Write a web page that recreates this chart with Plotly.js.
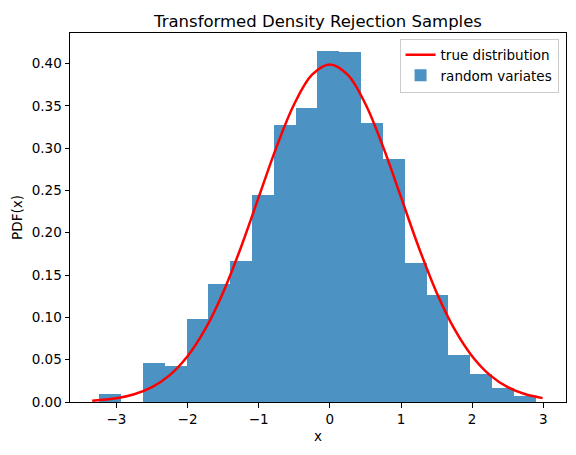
<!DOCTYPE html>
<html>
<head>
<meta charset="utf-8">
<script src="https://cdn.plot.ly/plotly-3.0.1.min.js"></script>
<style>html,body{margin:0;padding:0;background:#fff;}#chart{width:576px;height:455px;}</style>
</head>
<body>
<div id="chart"></div>
<script>
// histogram bin edges
var binEdges = [-3.24, -2.933, -2.627, -2.32, -2.014, -1.707, -1.4, -1.094, -0.787, -0.481, -0.174,
                0.132, 0.439, 0.746, 1.052, 1.359, 1.665, 1.972, 2.278, 2.585, 2.892];
// density per bin
var density = [0.010, 0.0, 0.046, 0.042, 0.098, 0.140, 0.167, 0.245, 0.327, 0.347,
               0.415, 0.413, 0.330, 0.287, 0.164, 0.127, 0.055, 0.033, 0.016, 0.007];
// true distribution curve points
var curveX = [-3.34, -3.0, -2.75, -2.5, -2.25, -2.0, -1.75, -1.5, -1.25, -1.0, -0.75, -0.5, -0.25, 0.0,
              0.25, 0.5, 0.75, 1.0, 1.25, 1.5, 1.75, 2.0, 2.25, 2.5, 2.75, 2.99];
var curveY = [0.0015, 0.0044, 0.0091, 0.0175, 0.0317, 0.0540, 0.0863, 0.1295, 0.1826, 0.2420, 0.3011, 0.3521, 0.3867, 0.3989,
              0.3867, 0.3521, 0.3011, 0.2420, 0.1826, 0.1295, 0.0863, 0.0540, 0.0317, 0.0175, 0.0091, 0.0046];
var xTicks = [-3, -2, -1, 0, 1, 2, 3];
var xTickLabels = ['−3', '−2', '−1', '0', '1', '2', '3'];
var yTicks = [0, 0.05, 0.10, 0.15, 0.20, 0.25, 0.30, 0.35, 0.40];
var yTickLabels = ['0.00', '0.05', '0.10', '0.15', '0.20', '0.25', '0.30', '0.35', '0.40'];

var centers = [], widths = [];
for (var i = 0; i < density.length; i++) {
  centers.push((binEdges[i] + binEdges[i + 1]) / 2);
  widths.push(binEdges[i + 1] - binEdges[i]);
}

var font = {family: 'DejaVu Sans, sans-serif', size: 13.5, color: '#000'};

var traces = [
  {
    type: 'scatter', mode: 'lines', x: curveX, y: curveY,
    name: 'true distribution',
    line: {color: '#ff0000', width: 2.5, shape: 'spline', smoothing: 1}
  },
  {
    type: 'bar', x: centers, y: density, width: widths,
    name: 'random variates',
    marker: {color: 'rgba(31,119,180,0.8)', line: {width: 0}}
  }
];

var layout = {
  width: 576, height: 455,
  margin: {l: 70, r: 10, t: 33, b: 53, pad: 0},
  paper_bgcolor: '#fff', plot_bgcolor: '#fff',
  font: font,
  showlegend: true,
  bargap: 0,
  title: {text: 'Transformed Density Rejection Samples', font: {family: 'DejaVu Sans, sans-serif', size: 16.5, color: '#000'},
          x: 0.5, xref: 'paper', y: 1, yref: 'paper', yanchor: 'bottom', pad: {b: 6}},
  xaxis: {
    range: [-3.652, 3.319], tickmode: 'array', tickvals: xTicks, ticktext: xTickLabels,
    ticks: 'outside', ticklen: 4.5, tickwidth: 1, tickcolor: '#000',
    showline: true, linecolor: '#000', linewidth: 1, mirror: true,
    showgrid: false, zeroline: false, tickfont: font,
    title: {text: 'x', font: font, standoff: 5}
  },
  yaxis: {
    range: [0, 0.436], tickmode: 'array', tickvals: yTicks, ticktext: yTickLabels,
    ticks: 'outside', ticklen: 4.5, tickwidth: 1, tickcolor: '#000',
    showline: true, linecolor: '#000', linewidth: 1, mirror: true,
    showgrid: false, zeroline: false, tickfont: font,
    title: {text: 'PDF(x)', font: font, standoff: 6}
  },
  legend: {
    x: 0.985, y: 0.985, xanchor: 'right', yanchor: 'top',
    bgcolor: 'rgba(255,255,255,0.8)', bordercolor: '#cccccc', borderwidth: 1,
    font: font, traceorder: 'normal', tracegroupgap: 2
  }
};

Plotly.newPlot('chart', traces, layout, {staticPlot: true, displayModeBar: false});
</script>
</body>
</html>
